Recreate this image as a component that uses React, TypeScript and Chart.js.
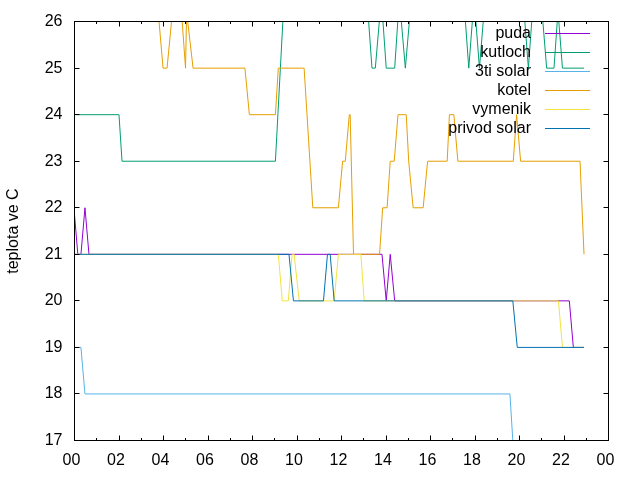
import { useEffect, useRef } from 'react';
import { Chart, registerables } from 'chart.js';

Chart.register(...registerables);

const FONT = '"Liberation Sans", Arial, Helvetica, sans-serif';

// Hours of day (0-24) and temperatures
const pudaT = [0, 0.15, 0.29, 0.47, 0.65, 13.82, 14.01, 14.19, 14.39, 22.24, 22.42, 22.9];
const pudaV = [21.85, 21, 21, 22, 21, 21, 20, 21, 20, 20, 19, 19];

const kutlochT = [0, 2.0, 2.135, 9.03, 9.42, 13.145, 13.37, 13.52, 13.79, 14.01, 14.39, 14.6, 14.87, 15.14, 17.495, 17.72, 17.96, 18.2, 18.455, 20.16, 20.4, 20.625, 20.965, 21.22, 21.55, 21.73, 21.93, 22.9];
const kutlochV = [24, 24, 23, 23, 26.5, 26.5, 25, 25, 26.5, 25, 25, 26.5, 25, 26.5, 26.5, 25, 26.5, 25, 26.5, 26.5, 25, 26.5, 26.5, 25, 25, 26.23, 25, 25];

const solar3T = [0, 0.29, 0.47, 19.57, 19.83, 22.9];
const solar3V = [19, 19, 18, 18, 16, 16];

const kotelT = [0, 3.71, 3.98, 4.16, 4.46, 4.765, 4.99, 5.04, 5.33, 7.66, 7.86, 9.03, 9.16, 10.32, 10.71, 11.86, 12.05, 12.17, 12.35, 12.39, 12.54, 13.71, 13.85, 14.05, 14.19, 14.37, 14.54, 14.91, 15.02, 15.22, 15.67, 15.87, 16.75, 16.85, 17.05, 17.23, 19.72, 19.87, 20.05, 22.72, 22.9];
const kotelV = [26.5, 26.5, 25, 25, 26.5, 26.5, 25, 26.2, 25, 25, 24, 24, 25, 25, 22, 22, 23, 23, 24, 24, 21, 21, 22, 22, 23, 23, 24, 24, 23, 22, 22, 23, 23, 24, 24, 23, 23, 24, 23, 23, 21];

const vymenikT = [0, 9.16, 9.34, 9.61, 9.78, 9.87, 10.1, 11.67, 11.86, 12.87, 13.02, 21.75, 21.93, 22.9];
const vymenikV = [21, 21, 20, 20, 21, 21, 20, 20, 21, 21, 20, 20, 19, 19];

const privodT = [0, 9.64, 9.84, 11.19, 11.37, 11.49, 11.67, 19.7, 19.9, 22.9];
const privodV = [21, 21, 20, 20, 21, 21, 20, 20, 19, 19];

const seriesNames = ['puda', 'kutloch', '3ti solar', 'kotel', 'vymenik', 'privod solar'];
const seriesColors = ['#9400D3', '#009E73', '#56B4E9', '#E69F00', '#F0E442', '#0072B2'];
const seriesTimes = [pudaT, kutlochT, solar3T, kotelT, vymenikT, privodT];
const seriesValues = [pudaV, kutlochV, solar3V, kotelV, vymenikV, privodV];

const xTickLabels = ['00', '02', '04', '06', '08', '10', '12', '14', '16', '18', '20', '22', '00'];
const yTickLabels = ['17', '18', '19', '20', '21', '22', '23', '24', '25', '26'];
const yTitle = 'teplota ve C';

const gnuplotDecor = {
  id: 'gnuplotDecor',
  afterDraw(chart: any) {
    const { ctx, chartArea: a, scales } = chart;
    const xs = scales.x;
    const ys = scales.y;
    const L = Math.floor(a.left) + 0.5;
    const R = Math.floor(a.right) + 0.5;
    const T = Math.floor(a.top) + 0.5;
    const B = Math.floor(a.bottom) + 0.5;
    ctx.save();
    ctx.strokeStyle = '#000';
    ctx.lineWidth = 1;
    ctx.beginPath();
    for (let h = (xs.min as number); h <= (xs.max as number); h += 1) {
      const px = Math.floor(xs.getPixelForValue(h)) + 0.5;
      const len = h % 2 === 0 ? 5 : 2.5;
      ctx.moveTo(px, B); ctx.lineTo(px, B - len);
      ctx.moveTo(px, T); ctx.lineTo(px, T + len);
    }
    for (let v = (ys.min as number); v <= (ys.max as number); v += 1) {
      const py = Math.floor(ys.getPixelForValue(v)) + 0.5;
      ctx.moveTo(L, py); ctx.lineTo(L + 5, py);
      ctx.moveTo(R, py); ctx.lineTo(R - 5, py);
    }
    ctx.stroke();
    ctx.strokeRect(L, T, R - L, B - T);

    ctx.fillStyle = '#000';
    ctx.font = `16px ${FONT}`;
    ctx.save();
    ctx.translate(14, (a.top + a.bottom) / 2);
    ctx.rotate(-Math.PI / 2);
    ctx.textAlign = 'center';
    ctx.textBaseline = 'middle';
    ctx.fillText(yTitle, 0, 0);
    ctx.restore();

    ctx.textAlign = 'right';
    ctx.textBaseline = 'middle';
    for (let i = 0; i < seriesNames.length; i++) {
      const ly = 33.3 + 19 * i;
      ctx.fillStyle = '#000';
      ctx.fillText(seriesNames[i], 531, ly);
      ctx.strokeStyle = seriesColors[i];
      ctx.beginPath();
      const yy = Math.floor(ly) + 0.5;
      ctx.moveTo(545, yy);
      ctx.lineTo(590, yy);
      ctx.stroke();
    }
    ctx.restore();
  },
};

export default function App() {
  const ref = useRef<HTMLCanvasElement | null>(null);

  useEffect(() => {
    if (!ref.current) return;
    const datasets = seriesNames.map((name, i) => ({
      label: name,
      data: seriesTimes[i].map((t, j) => ({ x: t, y: seriesValues[i][j] })),
      borderColor: seriesColors[i],
      backgroundColor: seriesColors[i],
      borderWidth: 1,
      pointRadius: 0,
      tension: 0,
      fill: false,
      clip: 0,
      order: seriesNames.length - 1 - i,
    }));
    const chart = new Chart(ref.current, {
      type: 'line',
      data: { datasets },
      options: {
        animation: false,
        responsive: false,
        devicePixelRatio: 1,
        layout: { padding: { top: 19, right: 31.5, bottom: 0, left: 0 } },
        plugins: { legend: { display: false }, tooltip: { enabled: false } },
        scales: {
          x: {
            type: 'linear',
            min: 0,
            max: 24,
            grid: { display: false, drawTicks: false },
            border: { display: false },
            ticks: {
              stepSize: 2,
              autoSkip: false,
              maxRotation: 0,
              padding: 10,
              labelOffset: -3,
              color: '#000',
              font: { family: FONT, size: 16 },
              callback: (_v: any, i: number) => xTickLabels[i],
            },
            afterFit: (s: any) => { s.height = 39.5; },
          },
          y: {
            type: 'linear',
            min: 17,
            max: 26,
            grid: { display: false, drawTicks: false },
            border: { display: false },
            ticks: {
              stepSize: 1,
              padding: 12,
              color: '#000',
              font: { family: FONT, size: 16 },
              callback: (_v: any, i: number) => yTickLabels[i],
            },
            afterFit: (s: any) => { s.width = 74.5; },
          },
        },
      },
      plugins: [gnuplotDecor],
    } as any);
    return () => chart.destroy();
  }, []);

  return (
    <div style={{ position: 'fixed', left: 0, top: 0, width: 640, height: 480, background: '#fff' }}>
      <canvas ref={ref} width={640} height={480} />
    </div>
  );
}
